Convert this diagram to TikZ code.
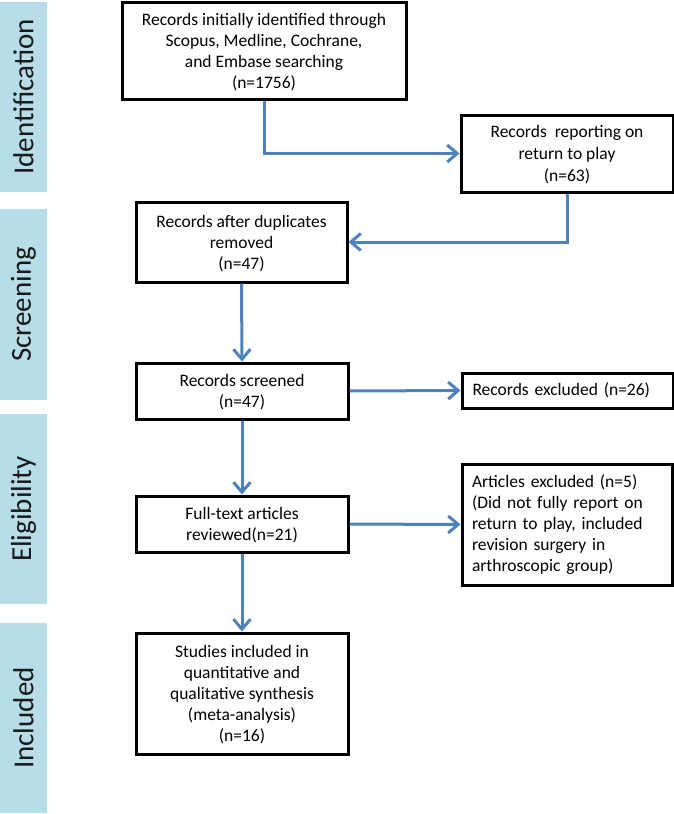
\documentclass[tikz,border=0pt]{standalone}
\usepackage{fontspec}
\setmainfont{Carlito}
\usetikzlibrary{arrows.meta}
\definecolor{bandblue}{HTML}{B7DDE8}
\definecolor{arrblue}{HTML}{4F81BD}
\begin{document}
\begin{tikzpicture}[x=1pt,y=-1pt,
  band/.style={fill=bandblue, draw=none, rotate=90, minimum height=47pt, inner sep=0pt,
    font=\fontsize{29}{34}\selectfont, text=black!90},
  basebox/.style={draw=black, line width=3pt, fill=white, inner sep=0pt,
    font=\fontsize{17.5}{21}\selectfont},
  box/.style={basebox, align=center, text depth=0pt},
  lbox/.style={basebox, align=left, text width=190pt},
  arr/.style={draw=arrblue, line width=3pt, -{Straight Barb[length=10pt,width=17pt]}}]
\path[use as bounding box] (0,0) rectangle (674,814);
% stage bands
\node[band, minimum width=190pt] (bid) at (23.5,97) {Identification};
\node[band, minimum width=191pt] (bsc) at (23.5,304.5) {Screening};
\node[band, minimum width=190pt] (bel) at (23.5,509) {Eligibility};
\node[band, minimum width=190pt] (bin) at (23.5,718) {Included};
% boxes
\node[box, minimum width=284pt, minimum height=97pt] (b1) at (264,50.5)
  {Records initially identified through\\Scopus, Medline, Cochrane,\\and Embase searching\\(n=1756)};
\node[box, minimum width=212pt, minimum height=77pt, font=\fontsize{17.5}{22}\selectfont] (b2) at (567,153.5)
  {Records\ \ reporting on\\return to play\\(n=63)};
\node[box, minimum width=211pt, minimum height=80pt] (b3) at (241.5,242)
  {Records after duplicates\\removed\\(n=47)};
\node[box, minimum width=212pt, minimum height=56pt] (b4) at (242,391)
  {Records screened\\(n=47)};
\node[lbox, minimum width=211pt, minimum height=35pt] (b5) at (567.5,390.5)
  {Records excluded (n=26)};
\node[box, minimum width=212pt, minimum height=56pt] (b6) at (242,524)
  {Full-text articles\\reviewed(n=21)};
\node[lbox, minimum width=210pt, minimum height=121pt] (b7) at (567,524.5)
  {Articles excluded (n=5)\\(Did not fully report on\\return to play, included\\revision surgery in\\arthroscopic group)};
\node[box, minimum width=212pt, minimum height=121pt] (b8) at (242,693.5)
  {Studies included in\\quantitative and\\qualitative synthesis\\(meta-analysis)\\(n=16)};
% connectors
\draw[arr] (b1.south) |- (b2.west);
\draw[arr] (b2.south) |- (b3.east);
\draw[arr] (b3.south) -- (b4.north);
\draw[arr] (b4.east) -- (b5.west);
\draw[arr] (b4.south) -- (b6.north);
\draw[arr] (b6.east) -- (b7.west);
\draw[arr] (b6.south) -- (b8.north);
\end{tikzpicture}
\end{document}
